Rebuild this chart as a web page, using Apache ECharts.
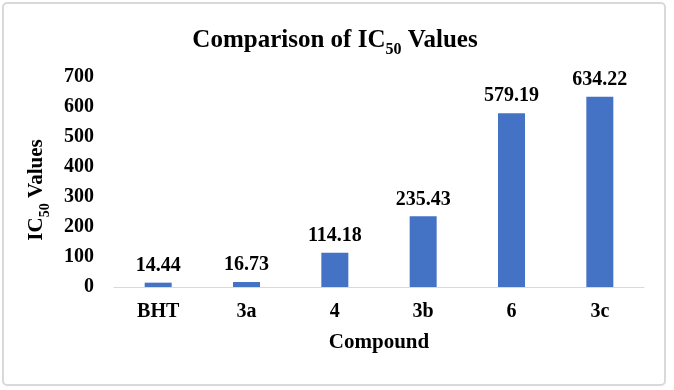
<!DOCTYPE html>
<html lang="en">
<head>
    <meta charset="UTF-8">
    <title>Comparison of IC50 Values</title>
    <script src="https://cdn.jsdelivr.net/npm/echarts@6/dist/echarts.min.js"></script>
    <style>
        body { padding: 0; margin: 0; background: #fff; }
        #ic50Chart { width: 674px; height: 390px; }
    </style>
</head>
<body>
    <div id="ic50Chart"></div>

    <script>
        const compounds = ['BHT', '3a', '4', '3b', '6', '3c'];
        const ic50Values = [14.44, 16.73, 114.18, 235.43, 579.19, 634.22];

        const serif = '"Liberation Serif", "DejaVu Serif", serif';
        const bold = { fontFamily: serif, fontWeight: 'bold', color: '#000' };

        const chart = echarts.init(document.getElementById('ic50Chart'));
        chart.setOption({
            animation: false,
            title: {
                text: '{b|Comparison of IC}{s|50}{b| Values}',
                left: 330,
                textAlign: 'center',
                top: 23,
                textStyle: {
                    rich: {
                        b: Object.assign({}, bold, { fontSize: 25, lineHeight: 30, verticalAlign: 'top' }),
                        s: Object.assign({}, bold, { fontSize: 16, lineHeight: 18, verticalAlign: 'bottom' })
                    }
                }
            },
            graphic: [{
                type: 'rect',
                shape: { x: 3, y: 3, width: 662, height: 382, r: 4 },
                style: { fill: 'none', stroke: '#d9d9d9', lineWidth: 2 },
                silent: true
            }],
            grid: { left: 114, right: 30, top: 77, bottom: 103 },
            xAxis: {
                type: 'category',
                data: compounds,
                name: 'Compound',
                nameLocation: 'middle',
                nameGap: 45,
                nameTextStyle: Object.assign({}, bold, { fontSize: 21 }),
                axisLine: { lineStyle: { color: '#d9d9d9', width: 1 } },
                axisTick: { show: false },
                axisLabel: Object.assign({}, bold, { fontSize: 20, margin: 15 })
            },
            yAxis: {
                type: 'value',
                min: 0,
                max: 700,
                interval: 100,
                name: '{b|IC}{s|50}{b| Values}',
                nameLocation: 'middle',
                nameGap: 62,
                nameRotate: 90,
                nameTextStyle: {
                    padding: [0, 16, 0, 0],
                    rich: {
                        b: Object.assign({}, bold, { fontSize: 21, lineHeight: 26, verticalAlign: 'top' }),
                        s: Object.assign({}, bold, { fontSize: 14, lineHeight: 16, verticalAlign: 'bottom' })
                    }
                },
                splitLine: { show: false },
                axisLine: { show: false },
                axisTick: { show: false },
                axisLabel: Object.assign({}, bold, { fontSize: 20, margin: 20 })
            },
            series: [{
                name: 'IC50',
                type: 'bar',
                data: ic50Values,
                barWidth: 27,
                itemStyle: { color: '#4472C4' },
                label: Object.assign({}, bold, {
                    show: true,
                    position: 'top',
                    distance: 7,
                    fontSize: 20,
                    formatter: p => p.value.toFixed(2)
                })
            }]
        });
    </script>
</body>
</html>
